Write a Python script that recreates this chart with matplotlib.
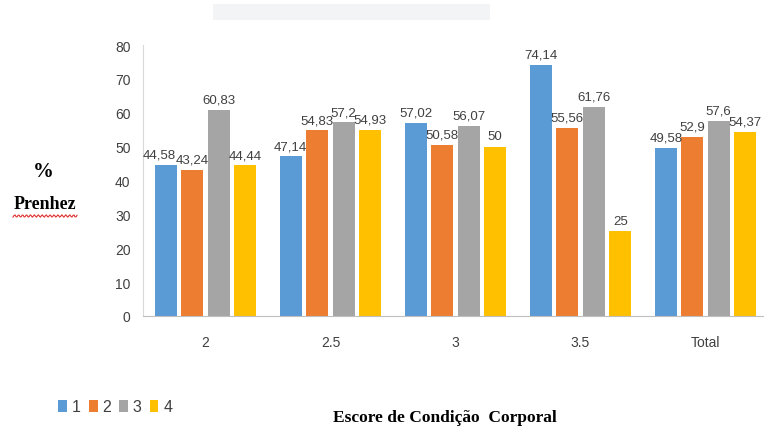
import numpy as np
import matplotlib.pyplot as plt
from matplotlib.patches import Rectangle

categories = ["2", "2.5", "3", "3.5", "Total"]
series_names = ["1", "2", "3", "4"]
s1 = [44.58, 47.14, 57.02, 74.14, 49.58]
s2 = [43.24, 54.83, 50.58, 55.56, 52.9]
s3 = [60.83, 57.2, 56.07, 61.76, 57.6]
s4 = [44.44, 54.93, 50, 25, 54.37]
yticks = [0, 10, 20, 30, 40, 50, 60, 70, 80]

colors = ["#5B9BD5", "#ED7D31", "#A5A5A5", "#FFC000"]
txt = "#404040"
sans = ["Liberation Sans Narrow", "Liberation Sans", "DejaVu Sans"]
serif = ["Liberation Serif", "DejaVu Serif"]

# labels that the original shifted sideways to avoid a clash (series, group): points
nudge = {(0, 0): -5}


def fmt(v):
    s = ("%.2f" % v).rstrip("0").rstrip(".")
    return s.replace(".", ",")


fig = plt.figure(figsize=(7.64, 4.35), dpi=100)
ax = fig.add_axes([143 / 764, 1 - 317 / 435, 1 - 143 / 764, (317 - 46) / 435])

x = np.arange(len(categories))
width = 0.176
step = 0.212
for i, vals in enumerate([s1, s2, s3, s4]):
    pos = x + (i - 1.5) * step
    bars = ax.bar(pos, vals, width, color=colors[i], label=series_names[i])
    for j, (b, v) in enumerate(zip(bars, vals)):
        ax.annotate(fmt(v), (b.get_x() + b.get_width() / 2, v),
                    xytext=(nudge.get((i, j), 0), 3), textcoords="offset points",
                    ha="center", va="bottom", fontsize=9.5, color=txt, family=sans)

ax.set_xlim(-0.5, 4.468)
ax.set_ylim(0, 80)
ax.set_yticks(yticks)
ax.set_xticks(x)
ax.set_xticklabels(categories)
ax.tick_params(length=0, labelsize=10, labelcolor=txt)
ax.tick_params(axis="x", pad=14)
ax.tick_params(axis="y", pad=9)
for lab in ax.get_xticklabels() + ax.get_yticklabels():
    lab.set_family(sans)
for side in ["top", "right"]:
    ax.spines[side].set_visible(False)
ax.spines["left"].set_color("#d9d9d9")
ax.spines["bottom"].set_color("#bfbfbf")

# y label
fig.text(43 / 764, 1 - 172 / 435, "%", ha="center", va="center",
         fontsize=15, fontweight="bold", family=serif)
fig.text(45 / 764, 1 - 205 / 435, "Prenhez", ha="center", va="center",
         fontsize=13, fontweight="bold", family=serif)
wx = np.linspace(13, 77, 64)
wy = 217 + 1.2 * np.sin(wx * 1.6)
fig.add_artist(plt.Line2D(wx / 764, 1 - wy / 435, color="#e03030", lw=0.8))

# x label
fig.text(445 / 764, 1 - 418 / 435, "Escore de Condição  Corporal", ha="center",
         va="center", fontsize=12.5, fontweight="bold", family=serif)

# faint title remnant at top
fig.add_artist(Rectangle((213 / 764, 1 - 21 / 435), 277 / 764, 16 / 435,
                         transform=fig.transFigure, color="#f3f4f6", lw=0))

# legend
handles, labels = ax.get_legend_handles_labels()
fig.legend(handles, labels, loc="center left", bbox_to_anchor=(44 / 764, 1 - 408 / 435),
           ncol=4, frameon=False, handlelength=0.55, handleheight=0.7,
           handletextpad=0.3, columnspacing=0.5,
           prop={"family": sans, "size": 11.5}, labelcolor=txt)

fig.savefig("out.png", dpi=100)
